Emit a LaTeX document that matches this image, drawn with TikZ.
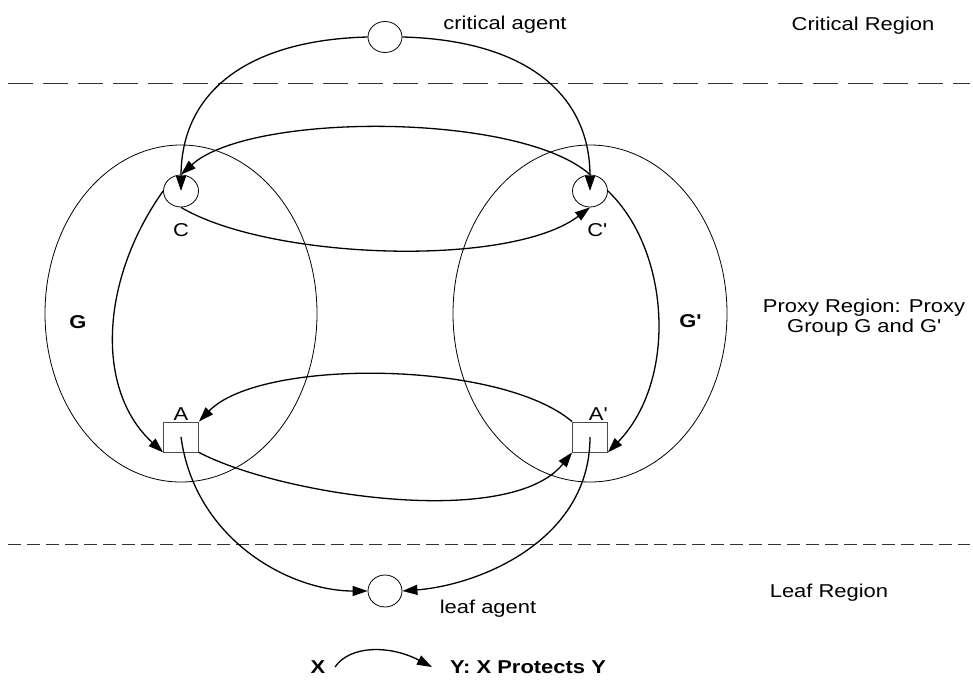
\documentclass[tikz,border=0pt]{standalone}
\usepackage{fontspec}
\setmainfont{Liberation Sans}[FakeStretch=1.18]
\usetikzlibrary{arrows.meta,shapes.geometric}

\begin{document}
\begin{tikzpicture}[x=1pt,y=-1pt,
  agent/.style={draw,ellipse,line width=0.8pt,minimum width=34pt,minimum height=31pt,inner sep=0pt},
  anchorbox/.style={draw=black!70,line width=0.8pt,minimum width=35pt,minimum height=30pt,inner sep=0pt},
  group/.style={draw,ellipse,line width=0.8pt,inner sep=0pt},
  protects/.style={line width=1.3pt,-{Triangle[length=15pt,width=10pt]}},
  boundary/.style={draw=black!80,line width=1pt},
  lbl/.style={font=\fontsize{18.6}{20}\selectfont,inner sep=0pt,anchor=base},
  boldlbl/.style={lbl,font=\fontsize{18.6}{20}\selectfont\bfseries}
]
\useasboundingbox (0,0) rectangle (973,680);

% region boundaries
\draw[boundary,dash pattern=on 25pt off 10pt] (8,83) -- (970,83);
\draw[boundary,dash pattern=on 13pt off 6pt] (8,544) -- (970,544);

% proxy groups
\node[group,minimum width=272pt,minimum height=337pt] (grpG) at (181,313.5) {};
\node[group,minimum width=274pt,minimum height=337pt] (grpGp) at (590,313.5) {};

% agents
\node[agent] (crit) at (385,37) {};
\node[agent,minimum width=35pt,minimum height=32pt] (C) at (181,191) {};
\node[agent,minimum width=35pt,minimum height=32pt] (Cp) at (590,191) {};
\node[anchorbox] (A) at (181,437) {};
\node[anchorbox] (Ap) at (590,437) {};
\node[agent,minimum height=32pt] (leaf) at (385,591) {};

% labels
\node[lbl] (critlbl) at (505,29) {critical agent};
\node[lbl] (critreg) at (863,30) {Critical Region};
\node[lbl] (Clbl) at (181,236) {C};
\node[lbl] (Cplbl) at (597,236) {C\textquotesingle};
\node[lbl] (Albl) at (181,420) {A};
\node[lbl] (Aplbl) at (598,420) {A\textquotesingle};
\node[boldlbl] (Glbl) at (78,328) {G};
\node[boldlbl] (Gplbl) at (690,327) {G\textquotesingle};
\node[lbl] (proxy1) at (864,312) {Proxy Region: Proxy};
\node[lbl] (proxy2) at (864,332) {Group G and G\textquotesingle};
\node[lbl] (leaflbl) at (488,613) {leaf agent};
\node[lbl] (leafreg) at (829,597) {Leaf Region};

% protection relations
\draw[protects] (crit.west) .. controls (250,40) and (181,90) .. (C.center);
\draw[protects] (crit.east) .. controls (520,40) and (590,90) .. (Cp.center);
\draw[protects] (Cp.north) .. controls (520,112) and (250,112) .. (C.north);
\draw[protects] (C.south) .. controls (270,260) and (510,268) .. (Cp.south);
\draw[protects] (C.west) .. controls (100,280) and (95,390) .. (A.south west);
\draw[protects] (Cp.east) .. controls (670,250) and (678,380) .. (Ap.south east);
\draw[protects] (Ap.north west) .. controls (500,360) and (260,358) .. (A.north east);
\draw[protects] (A.south east) .. controls (280,495) and (510,530) .. (Ap.south west);
\draw[protects] (A.center) .. controls (195,540) and (290,591) .. (leaf.west);
\draw[protects] (Ap.center) .. controls (590,540) and (480,585) .. (leaf.east);

% legend
\node[boldlbl] (legX) at (318,673) {X};
\node[boldlbl,anchor=base west] (legY) at (450,673) {Y: X Protects Y};
\coordinate (legfrom) at (335,667);
\coordinate (legto) at (432,667);
\draw[protects] (legfrom) .. controls (350,645) and (390,645) .. (legto);
\end{tikzpicture}
\end{document}
